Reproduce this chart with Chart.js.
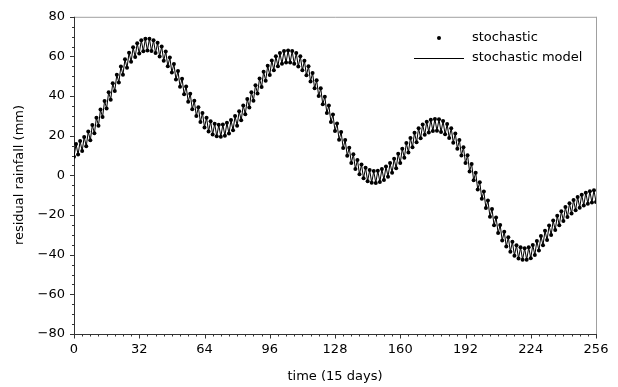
<!DOCTYPE html>
<html>
<head>
<meta charset="utf-8">
<script src="https://cdn.jsdelivr.net/npm/chart.js@4.4.1/dist/chart.umd.min.js"></script>
<style>
html,body{margin:0;padding:0;background:#fff;}
#wrap{width:618px;height:387px;position:relative;}
</style>
</head>
<body>
<div id="wrap"><canvas id="c" width="618" height="387"></canvas></div>
<script>
// time index (15-day steps)
const timeSteps = [
0,1,2,3,4,5,6,7,8,9,10,11,12,13,14,15,16,17,18,19,20,21,22,23,24,25,26,27,28,29,30,31,
32,33,34,35,36,37,38,39,40,41,42,43,44,45,46,47,48,49,50,51,52,53,54,55,56,57,58,59,60,61,62,63,
64,65,66,67,68,69,70,71,72,73,74,75,76,77,78,79,80,81,82,83,84,85,86,87,88,89,90,91,92,93,94,95,
96,97,98,99,100,101,102,103,104,105,106,107,108,109,110,111,112,113,114,115,116,117,118,119,120,121,122,123,124,125,126,127,
128,129,130,131,132,133,134,135,136,137,138,139,140,141,142,143,144,145,146,147,148,149,150,151,152,153,154,155,156,157,158,159,
160,161,162,163,164,165,166,167,168,169,170,171,172,173,174,175,176,177,178,179,180,181,182,183,184,185,186,187,188,189,190,191,
192,193,194,195,196,197,198,199,200,201,202,203,204,205,206,207,208,209,210,211,212,213,214,215,216,217,218,219,220,221,222,223,
224,225,226,227,228,229,230,231,232,233,234,235,236,237,238,239,240,241,242,243,244,245,246,247,248,249,250,251,252,253,254,255,256
];
// residual rainfall (mm), stochastic series
const stochastic = [
9.4,15.8,10.5,17.3,12.3,19.4,14.7,22.1,17.7,25.4,21.2,29.1,25.1,33.2,29.4,37.5,
33.8,42,38.2,46.5,42.6,50.8,46.9,54.9,50.8,58.6,54.3,61.9,57.3,64.6,59.7,66.7,
61.5,68.2,62.6,68.9,63,68.9,62.7,68.2,61.7,66.9,60.0,65.0,57.8,62.5,55.1,59.5,
51.9,56.2,48.4,52.6,44.7,48.8,40.9,44.9,37.1,41.2,33.4,37.6,29.9,34.4,26.9,31.5,
24.2,29.1,22.1,27.3,20.6,26.1,19.7,25.5,19.5,25.7,20.0,26.5,21.1,27.9,22.8,29.9,
25.1,32.4,27.8,35.3,30.9,38.5,34.2,42.0,37.7,45.5,41.3,48.9,44.6,52.3,47.8,55.3,
50.7,58.0,53.1,60.1,55.0,61.7,56.3,62.7,56.9,63,56.9,62.7,56.3,61.7,54.9,60.1,
53.0,57.8,50.5,55.0,47.4,51.7,43.9,48.0,40.0,43.9,35.9,39.7,31.5,35.2,26.9,30.7,
22.4,26.2,18.0,21.9,13.8,17.8,9.9,14.0,6.3,10.7,3.2,7.8,0.6,5.5,-1.5,3.8,
-2.9,2.7,-3.7,2.2,-3.8,2.4,-3.3,3.2,-2.3,4.5,-0.7,6.2,1.3,8.4,3.6,10.9,
6.2,13.5,8.9,16.3,11.6,18.9,14.2,21.5,16.7,23.8,18.8,25.7,20.5,27.1,21.7,28.1,
22.4,28.5,22.5,28.3,21.9,27.4,20.7,25.9,18.9,23.8,16.5,21.1,13.5,17.8,10.1,14.2,
6.2,10.2,2.0,5.8,-2.4,1.3,-7.1,-3.4,-11.8,-8.1,-16.4,-12.6,-20.9,-17.0,-25.2,-21.2,
-29.1,-25.0,-32.8,-28.4,-35.9,-31.2,-38.5,-33.5,-40.5,-35.2,-41.9,-36.3,-42.6,-36.7,-42.6,-36.3,
-41.8,-35.1,-40.2,-33.1,-37.9,-30.6,-35.2,-27.9,-32.6,-25.3,-30.0,-22.8,-27.6,-20.4,-25.2,-18.1,
-23.0,-16.0,-21.0,-14.1,-19.2,-12.4,-17.6,-10.9,-16.3,-9.7,-15.2,-8.7,-14.3,-8.0,-13.7,-7.5,-13.4
];
// stochastic model (drawn through the same values)
const stochasticModel = stochastic.slice();

const xTicks = [0,32,64,96,128,160,192,224,256];
const yTicks = [-80,-60,-40,-20,0,20,40,60,80];
const xMinorStep = 4;
const yMinorStep = 5;
const legendLabels = ['stochastic','stochastic model'];
const xTitle = 'time (15 days)';
const yTitle = 'residual rainfall (mm)';

const FONT = 'DejaVu Sans';

const toPoints = arr => timeSteps.map((t,i)=>({x:t,y:arr[i]}));

const framePlugin = {
  id:'frame',
  beforeDatasetsDraw(chart){
    const {ctx, chartArea:a, scales:{x,y}} = chart;
    ctx.save();
    // light top/right border
    ctx.strokeStyle = '#a0a0a0';
    ctx.lineWidth = 1;
    ctx.beginPath();
    ctx.moveTo(a.left, a.top+0.5); ctx.lineTo(a.right+0.5, a.top+0.5);
    ctx.moveTo(a.right+0.5, a.top); ctx.lineTo(a.right+0.5, a.bottom);
    ctx.stroke();
    // dark left/bottom axes with ticks
    ctx.strokeStyle = '#333';
    ctx.beginPath();
    ctx.moveTo(a.left+0.5, a.top); ctx.lineTo(a.left+0.5, a.bottom+0.5);
    ctx.lineTo(a.right+1, a.bottom+0.5);
    for(let v=x.min; v<=x.max; v+=xMinorStep){
      const px = Math.round(x.getPixelForValue(v))+0.5;
      const len = xTicks.includes(v) ? 4 : 2;
      ctx.moveTo(px, a.bottom); ctx.lineTo(px, a.bottom+len+0.5);
    }
    for(let v=y.min; v<=y.max; v+=yMinorStep){
      const py = Math.round(y.getPixelForValue(v))+0.5;
      const len = yTicks.includes(v) ? 4 : 2;
      ctx.moveTo(a.left+0.5, py); ctx.lineTo(a.left-len, py);
    }
    ctx.stroke();
    ctx.restore();
  },
  afterDraw(chart){
    const {ctx} = chart;
    ctx.save();
    ctx.fillStyle = '#000';
    ctx.strokeStyle = '#000';
    // legend
    ctx.beginPath(); ctx.arc(439, 38, 2, 0, Math.PI*2); ctx.fill();
    ctx.lineWidth = 1;
    ctx.beginPath(); ctx.moveTo(414, 58.5); ctx.lineTo(464, 58.5); ctx.stroke();
    ctx.font = '13px "'+FONT+'"';
    ctx.textBaseline = 'middle';
    ctx.textAlign = 'left';
    ctx.fillText(legendLabels[0], 472, 38);
    ctx.fillText(legendLabels[1], 472, 58);
    // axis titles
    ctx.textAlign = 'center';
    ctx.fillText(xTitle, 335, 377);
    ctx.translate(20, 175);
    ctx.rotate(-Math.PI/2);
    ctx.fillText(yTitle, 0, 0);
    ctx.restore();
  }
};

new Chart(document.getElementById('c'), {
  type:'scatter',
  data:{
    datasets:[
      {label:legendLabels[1], data:toPoints(stochasticModel), showLine:true, borderColor:'#000', borderWidth:1, pointRadius:0, fill:false, order:2},
      {label:legendLabels[0], data:toPoints(stochastic), showLine:false, backgroundColor:'#000', borderColor:'#000', pointRadius:2, pointBorderWidth:0, order:1}
    ]
  },
  options:{
    responsive:false,
    animation:false,
    devicePixelRatio:1,
    layout:{padding:{top:14,right:22,left:0,bottom:0}},
    plugins:{legend:{display:false}, tooltip:{enabled:false}},
    scales:{
      x:{
        type:'linear', min:0, max:256,
        afterFit(s){ s.height = 53; },
        grid:{display:false, drawTicks:false}, border:{display:false},
        ticks:{stepSize:32, padding:8, color:'#000', font:{family:FONT, size:13}, maxRotation:0, autoSkip:false,
          callback:v=>String(v)}
      },
      y:{
        type:'linear', min:-80, max:80,
        afterFit(s){ s.width = 74; },
        grid:{display:false, drawTicks:false}, border:{display:false},
        ticks:{stepSize:20, padding:9, color:'#000', font:{family:FONT, size:13}, autoSkip:false,
          callback:v=>String(v).replace('-','\u2212')}
      }
    }
  },
  plugins:[framePlugin]
});
</script>
</body>
</html>
